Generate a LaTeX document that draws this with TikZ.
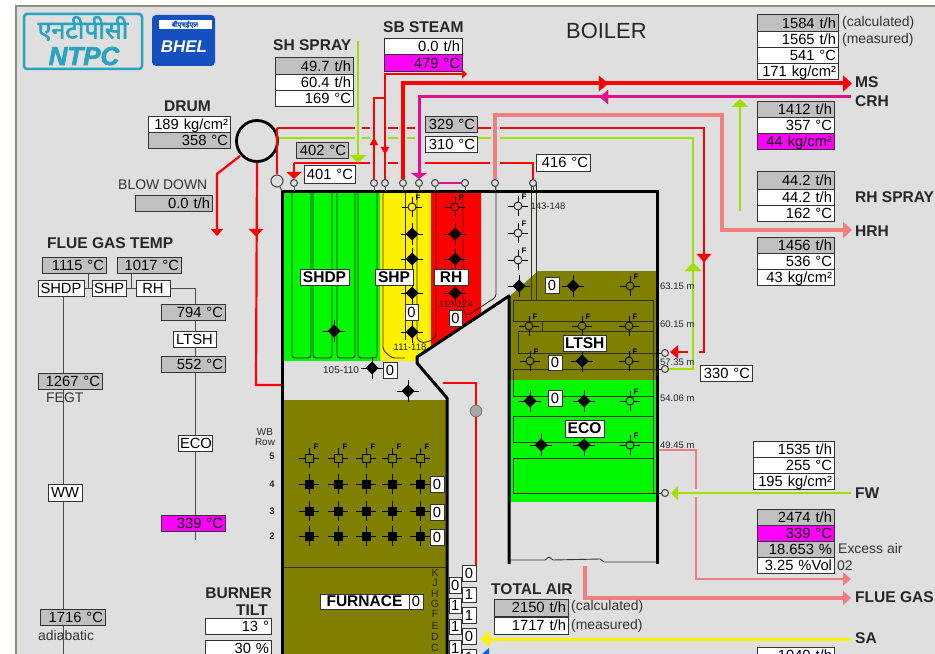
\documentclass[tikz,border=0pt]{standalone}
\usepackage{fontspec}
\setmainfont{Liberation Sans}
\newfontfamily\hindifont[Script=Devanagari,FakeBold=2.5]{Noto Sans}
\newfontfamily\logofont[FakeBold=2.5]{Liberation Sans}
\usetikzlibrary{arrows.meta}
\definecolor{bgc}{HTML}{DFDFDF}
\definecolor{grayv}{HTML}{C0C0C0}
\definecolor{lime}{HTML}{A0E000}
\definecolor{crhc}{HTML}{E0108F}
\definecolor{salm}{HTML}{F08080}
\definecolor{olivef}{HTML}{808000}
\definecolor{greenf}{HTML}{00F800}
\definecolor{magv}{HTML}{FF00FF}
\definecolor{frame}{HTML}{8F8F80}
\definecolor{tealc}{HTML}{2AA3BE}
\definecolor{bluec}{HTML}{1450C0}
\definecolor{linec}{HTML}{303020}
\newcommand{\valbox}[7][]{%
  \pgfmathsetmacro\bw{#5-#3}\pgfmathsetmacro\bh{#6-#4}\pgfmathsetmacro\tw{\bw-4}%
  \node[vb,fill=#7,minimum width=\bw bp,minimum height=\bh bp,text width=\tw bp,#1] (#2) at ({(#3+#5)/2},{(#4+#6)/2}) {\valtext};}
\newcommand{\vbx}[8][]{\def\valtext{#8}\valbox[#1]{#2}{#3}{#4}{#5}{#6}{#7}}
\tikzset{
  vb/.style={draw=black!80,line width=1bp,inner sep=0pt,align=right,font=\fontsize{14.8}{14.8}\selectfont,text height=10.5bp,text depth=0.5bp},
  cb/.style={align=center},
  bb/.style={align=center,font=\fontsize{15.6}{15.6}\selectfont\bfseries},
  ttl/.style={font=\fontsize{15.6}{15.6}\selectfont\bfseries,inner sep=0pt,anchor=west,text=black!85},
  note/.style={font=\fontsize{14}{14}\selectfont,inner sep=0pt,anchor=west,text=black!80},
  tiny/.style={font=\fontsize{9.5}{9.5}\selectfont,inner sep=0pt,anchor=west,text=black!85},
  port/.style={circle,draw=black!70,fill=bgc,line width=1.1bp,minimum size=7bp,inner sep=0pt},
  coil/.style={draw=linec,line width=0.9bp,rounded corners=3bp},
  lin/.style={draw=linec,line width=0.9bp},
  thinlk/.style={draw=black!70,line width=1bp},
  redp/.style={draw=red,line width=2.2bp},
  limep/.style={draw=lime,line width=2.2bp},
  sbon/.pic={\draw[line width=0.8bp] (-11,0)--(11,0) (0,-11)--(0,11);
    \fill[black] (-6.5,0)--(0,-6.5)--(6.5,0)--(0,6.5)--cycle;},
  sboff/.pic={\draw[line width=0.8bp] (-10,0)--(-4,0) (10,0)--(4,0) (0,-10)--(0,-4) (0,10)--(0,4);
    \draw[line width=0.8bp] (0,0) circle (4);
    \node[font=\fontsize{8}{8}\selectfont\bfseries,inner sep=0pt] at (6,-9) {F};},
  wbon/.pic={\draw[line width=0.8bp] (-10,0)--(10,0) (0,-10)--(0,10);
    \fill[black] (-4.5,-4.5) rectangle (4.5,4.5);},
  wboff/.pic={\draw[line width=0.8bp] (-10,0)--(-4,0) (10,0)--(4,0) (0,-10)--(0,-4) (0,10)--(0,4);
    \draw[line width=0.8bp] (-4,-4) rectangle (4,4);
    \node[font=\fontsize{8}{8}\selectfont\bfseries,inner sep=0pt] at (7,-11) {F};},
}
\begin{document}
\begin{tikzpicture}[x=1bp,y=-1bp]
\useasboundingbox (0,0) rectangle (935,654);
\clip (0,0) rectangle (935,654);
\fill[white] (0,0) rectangle (935,654);
\fill[bgc] (16,6) rectangle (935,654);
\draw[frame,line width=1.5bp] (16,654)--(16,6)--(935,6);

% logos
\draw[tealc,line width=2.5bp,rounded corners=3bp,fill=bgc] (24,14) rectangle (142,69);
\node[inner sep=0pt,text=tealc,font=\hindifont\fontsize{25}{25}\selectfont,text height=13bp,text depth=0bp] (hinditxt) at (83,32) {एनटीपीसी};
\node[inner sep=0pt,text=tealc,font=\logofont\fontsize{26}{26}\selectfont\bfseries\itshape,text height=18bp,text depth=0bp] (ntpctxt) at (84,56) {NTPC};
\fill[bluec,rounded corners=4bp] (152,15) rectangle (215,66);
\fill[white] (159,20) rectangle (212,29);
\node[inner sep=0pt,text=bluec,font=\hindifont\fontsize{7}{7}\selectfont] (bheltop) at (185,24.5) {बीएचईएल};
\node[inner sep=0pt,text=white,font=\fontsize{17}{17}\selectfont\bfseries\itshape] (bhelt) at (184,47) {BHEL};

% coloured tube banks
\fill[greenf] (283,193) rectangle (380,361);
\fill[yellow] (380,193)--(431,193)--(431,348)--(417,357)--(417,361)--(380,361)--cycle;
\fill[red] (431,193)--(481,193)--(481,314)--(431,348)--cycle;
\fill[olivef] (283,400) rectangle (446,654);
\fill[olivef] (510,296)--(538,271)--(656,271)--(656,380)--(510,380)--cycle;
\fill[greenf] (510,380) rectangle (656,502);

% SHDP coils
\foreach \a/\b in {292/311,313/332,337/355,358/377}
  \draw[coil] (\a,193)--(\a,358)--(\b,358)--(\b,193);
% SHP and RH coils
\draw[coil] (383,193)--(383,350)--(392,358)--(405,358);
\draw[coil] (405,193)--(405,340);
\draw[coil] (417,193)--(417,340)--(423,343)--(433,340)--(436,335)--(436,193);
\draw[coil] (463,193)--(463,310)--(467,316)--(496,297)--(496,183);
% right pass tubes
\draw[lin] (531,183)--(531,300) (536,183)--(536,300);
\draw[lin] (513,300)--(653,300) (513,300)--(513,321)--(653,321) (542,321)--(542,331);
\draw[lin] (518,331)--(653,331) (518,331)--(518,353)--(665,353);
\draw[lin] (513,369)--(665,369) (513,369)--(513,396)--(653,396);
\draw[lin] (513,416)--(653,416) (513,416)--(513,442)--(653,442);
\draw[lin] (513,458)--(653,458) (513,458)--(513,493)--(665,493);
\draw[lin] (653,300)--(653,493);
\draw[lin] (283,567)--(446,567);

% soot blowers
\foreach \p in {(412,234),(412,259),(412,293),(412,332),(455,234),(455,259),(455,293),(334,331),(372,368),(408,391),(519,286),(573,286),(582,361),(530,401),(584,401),(541,445),(584,445)}
  \pic at \p {sbon};
\foreach \p in {(412,207),(455,207),(518,206),(518,233),(518,260),(630,286),(529,326),(582,326),(629,326),(530,361),(629,361),(630,401),(630,445)}
  \pic at \p {sboff};
\foreach \x in {309,338,366,392,420}{
  \pic at (\x,458) {wboff};
  \foreach \y in {484,511,536} \pic at (\x,\y) {wbon};
}

% boiler outline
\draw[black,line width=3bp] (282,654)--(282,191)--(657,191)--(657,564);
\draw[black,line width=3bp,line join=round] (509,564)--(509,296)--(417,357)--(417,363)--(447,398)--(447,654);
\draw[black!80,line width=0.9bp] (509,560)--(545,560)--(549,557)--(553,560)--(600,559)--(604,562)--(657,562);

% ports
\foreach \x in {294,374,385,403,419,435,465,495,533}
  \node[port] (p\x) at (\x,183) {};
\node[port,minimum size=12bp] (blow) at (277,181) {};
\node[port] (pr) at (665,353) {};
\node[port] (pg) at (665,369) {};
\node[port] (pf) at (665,493) {};
\draw[thinlk] (blow)--(282,191);
\foreach \x in {294,374,385,403,419,435,495,465,533} \draw[thinlk] (p\x.south)--(\x,191);

% drum
\node[draw=black,line width=2.8bp,circle,minimum size=41bp,inner sep=0pt,fill=bgc] (drum) at (257,141) {};

% pipes: red saturated steam line and lime line
\coordinate (drumE) at (277,128);
\foreach \a/\b in {355/277,362/370,388/398,407/415,477/491}
  \draw[redp] (\a,128)--(\b,128);
\draw[redp] (500,128)--(704,128)--(704,352)--(699,352);
\draw[redp,-{Triangle[length=8bp,width=13bp]}] (688,352)--(670,352);
\foreach \a/\b in {279/355,362/370,388/398,407/415,477/491}
  \draw[limep] (\a,138)--(\b,138);
\draw[limep] (500,138)--(693,138)--(693,369)--(pg.east);
\draw[lime,fill=lime] (685,271)--(701,271)--(693,263)--cycle;
\draw[red,fill=red] (697,254)--(711,254)--(704,262)--cycle;
\draw[redp] (drumE)--(blow.north);
\draw[redp,-{Triangle[length=7bp,width=15bp]}] (294,163)--(p294.north);
\foreach \a/\b in {294/370,388/398,425/490}
  \draw[redp] (\a,163)--(\b,163);
\draw[redp] (500,163)--(533,163)--(p533.north);
\draw[redp] (p374.north)--(374,98)--(385,98);
\draw[red,fill=red] (370,145)--(378,145)--(374,138)--cycle;
\draw[redp,-{Triangle[length=5bp,width=9bp]}] (p385.north)--(385,74)--(467,74);
\draw[red,fill=red] (381,147)--(389,147)--(385,154)--cycle;
% drum down pipes
\draw[redp] (drum.south)--(256,385)--(281,385);
\draw[red,fill=red] (249,229)--(263,229)--(256,236)--cycle;
\draw[redp,-{Triangle[length=7bp,width=12bp]}] (240,156)--(217,174)--(217,236);
\draw[redp] (443,383)--(476,383)--(476,565);
\node[draw=black!70,fill=black!35,circle,minimum size=12bp,inner sep=0pt] (damper) at (476,411) {};
% MS
\draw[red,line width=4bp,-{Triangle[length=9bp,width=16bp]}] (p403.north)--(403,83.5)--(852,83.5);
\draw[red,fill=red] (599,76)--(608,83.5)--(599,91)--cycle;
% CRH
\draw[crhc,line width=3bp,-{Triangle[length=6bp,width=16bp]}] (851,97)--(419,97)--(p419.north);
\draw[crhc,fill=crhc] (608,90)--(600,97)--(608,104)--cycle;
% HRH
\draw[salm,line width=3.5bp,-{Triangle[length=9bp,width=16bp]}] (p495.north)--(495,115)--(722,115)--(722,230)--(852,230);
% pink link
\draw[crhc,line width=2bp] (p435.east)--(p465.west);
% sprays
\draw[lime,line width=2.2bp,-{Triangle[length=8bp,width=16bp]}] (358,41)--(358,163);
\draw[lime,line width=2.2bp,-{Triangle[length=8bp,width=16bp]}] (740,211)--(740,99);
% FW, flue gas, SA
\draw[lime,line width=2.6bp,-{Triangle[length=7bp,width=14bp]}] (851,493)--(671,493);
\draw[salm,line width=2.8bp] (659,450)--(696,450)--(696,489);
\draw[salm,line width=2.8bp,-{Triangle[length=8bp,width=13bp]}] (696,497)--(696,579)--(851,579);
\draw[salm,line width=4bp,-{Triangle[length=8bp,width=14bp]}] (585,566)--(585,598)--(851,598);
\draw[yellow,line width=3bp,-{Triangle[length=10bp,width=16bp]}] (851,639)--(480,639);
\fill[blue!60!cyan] (482,654)--(489,648)--(489,654)--cycle;

% labels
\node[font=\fontsize{22}{22}\selectfont,inner sep=0pt,anchor=west,text=black!85] (boiler) at (566,31) {BOILER};
\node[ttl] (tshs) at (273,45) {SH SPRAY};
\node[ttl] (tsbs) at (383,27) {SB STEAM};
\node[ttl] (tdrum) at (164,106) {DRUM};
\node[note] (tblow) at (118,185) {BLOW DOWN};
\node[ttl] (tfgt) at (47,243) {FLUE GAS TEMP};
\node[ttl] (tms) at (855,82) {MS};
\node[ttl] (tcrh) at (855,101) {CRH};
\node[ttl] (trhs) at (855,197) {RH SPRAY};
\node[ttl] (thrh) at (855,231) {HRH};
\node[ttl] (tfw) at (855,493) {FW};
\node[ttl] (tflue) at (855,597) {FLUE GAS};
\node[ttl] (tsa) at (855,638) {SA};
\node[ttl] (ttot) at (491,589) {TOTAL AIR};
\node[ttl,anchor=east] (tbur) at (272,593) {BURNER};
\node[ttl,anchor=east] (ttilt) at (268,610) {TILT};
\node[note] (ncal) at (842,23) {(calculated)};
\node[note] (nmea) at (842,40) {(measured)};
\node[note] (ncal2) at (571,607) {(calculated)};
\node[note] (nmea2) at (571,626) {(measured)};
\node[note] (nexc) at (838,549) {Excess air};
\node[note] (no2) at (837,566) {02};
\node[note] (nadia) at (38,636) {adiabatic};
\node[tiny,font=\fontsize{10}{10}\selectfont] (w1) at (323,370) {105-110};
\node[tiny,anchor=center] (w2) at (410,347) {111-118};
\node[tiny,anchor=center] (w3) at (456,304) {119-124};
\node[tiny,anchor=center] (w4) at (548,206) {143-148};
\foreach \n/\t/\y in {h1/63.15 m/286,h2/60.15 m/324,h3/57.35 m/362,h4/54.06 m/398,h5/49.45 m/445}
  \node[tiny] (\n) at (660,\y) {\t};
\node[tiny,anchor=center,align=center,font=\fontsize{10}{10}\selectfont] (wb) at (265,437) {WB\\Row};
\foreach \n/\y in {5/456,4/484,3/511,2/536}
  \node[tiny,anchor=center,font=\fontsize{9.5}{9.5}\selectfont\bfseries] (r\n) at (272,\y) {\n};
\foreach \t/\y in {K/573,J/583,H/594,G/604,F/614,E/626,D/637,C/648}
  \node[tiny,anchor=center,font=\fontsize{10.5}{10.5}\selectfont] (l\t) at (435,\y) {\t};

% flue gas temp network
\draw[thinlk] (63,296)--(63,654);
\draw[thinlk] (195,288)--(195,540);
\draw[thinlk] (170,288)--(195,288);
\draw[thinlk] (84,288)--(92,288) (126,288)--(136,288) (88,273)--(88,288) (131,273)--(131,288);
\node[note] (nfegt) at (46,398) {FEGT};

% value boxes
\vbx{a1}{275}{58}{353}{75}{grayv}{49.7 t/h}
\vbx{a2}{275}{75}{353}{91}{white}{60.4 t/h}
\vbx{a3}{275}{91}{353}{107}{white}{169 °C}
\vbx{b1}{384}{39}{462}{55}{white}{0.0 t/h}
\vbx{b2}{384}{55}{462}{72}{magv}{479 °C}
\vbx{c1}{148}{117}{230}{133}{white}{189 kg/cm²}
\vbx{c2}{148}{133}{230}{149}{grayv}{358 °C}
\vbx{d1}{135}{195}{212}{211}{grayv}{0.0 t/h}
\vbx{e1}{296}{143}{348}{159}{grayv}{402 °C}
\vbx{e2}{304}{166}{355}{183}{white}{401 °C}
\vbx{e3}{425}{117}{477}{133}{grayv}{329 °C}
\vbx{e4}{425}{137}{477}{153}{white}{310 °C}
\vbx{e5}{536}{155}{590}{171}{white}{416 °C}
\vbx{f0}{700}{365}{752}{381}{white}{330 °C}
\vbx{g1}{757}{15}{838}{32}{grayv}{1584 t/h}
\vbx{g2}{757}{32}{838}{48}{white}{1565 t/h}
\vbx{g3}{757}{48}{838}{64}{white}{541 °C}
\vbx{g4}{757}{64}{838}{80}{white}{171 kg/cm²}
\vbx{h1b}{757}{102}{834}{118}{grayv}{1412 t/h}
\vbx{h2b}{757}{118}{834}{134}{white}{357 °C}
\vbx{h3b}{757}{134}{834}{150}{magv}{44 kg/cm²}
\vbx{i1}{757}{172}{834}{189}{grayv}{44.2 t/h}
\vbx{i2}{757}{189}{834}{205}{white}{44.2 t/h}
\vbx{i3}{757}{205}{834}{221}{white}{162 °C}
\vbx{j1}{757}{237}{834}{253}{grayv}{1456 t/h}
\vbx{j2}{757}{253}{834}{269}{white}{536 °C}
\vbx{j3}{757}{269}{834}{285}{white}{43 kg/cm²}
\vbx{k1}{753}{441}{834}{457}{white}{1535 t/h}
\vbx{k2}{753}{457}{834}{473}{white}{255 °C}
\vbx{k3}{753}{473}{834}{489}{white}{195 kg/cm²}
\vbx{m1}{757}{509}{834}{525}{grayv}{2474 t/h}
\vbx{m2}{757}{525}{834}{541}{magv}{339 °C}
\vbx{m3}{757}{541}{834}{557}{grayv}{18.653 \%}
\vbx{m4}{757}{557}{834}{573}{white}{3.25 \%Vol}
\vbx{n1}{757}{647}{834}{664}{white}{1040 t/h}
\vbx{o1}{494}{599}{568}{616}{grayv}{2150 t/h}
\vbx{o2}{494}{617}{568}{634}{white}{1717 t/h}
\vbx{q1}{205}{618}{271}{634}{white}{13 °}
\vbx{q2}{205}{640}{271}{656}{white}{30 \%}
% flue gas temp boxes
\vbx{s1}{42}{257}{106}{273}{grayv}{1115 °C}
\vbx{s2}{117}{257}{181}{273}{grayv}{1017 °C}
\vbx[cb]{s3}{38}{280}{84}{296}{white}{SHDP}
\vbx[cb]{s4}{92}{280}{126}{296}{white}{SHP}
\vbx[cb]{s5}{136}{280}{170}{296}{white}{RH}
\vbx{s6}{161}{304}{225}{320}{grayv}{794 °C}
\vbx[cb]{s7}{173}{331}{216}{347}{white}{LTSH}
\vbx{s8}{161}{356}{225}{372}{grayv}{552 °C}
\vbx[cb]{s9}{178}{435}{212}{451}{white}{ECO}
\vbx{s10}{161}{515}{225}{531}{magv}{339 °C}
\vbx{s11}{38}{373}{102}{389}{grayv}{1267 °C}
\vbx[cb]{s12}{48}{484}{82}{501}{white}{WW}
\vbx{s13}{40}{609}{105}{625}{grayv}{1716 °C}
% section name boxes
\vbx[bb]{t1}{300}{269}{349}{285}{white}{SHDP}
\vbx[bb]{t2}{375}{269}{413}{285}{white}{SHP}
\vbx[bb]{t3}{434}{269}{468}{285}{white}{RH}
\vbx[bb]{t4}{563}{335}{606}{351}{white}{LTSH}
\vbx[bb]{t5}{565}{420}{604}{437}{white}{ECO}
\vbx[bb]{t6}{320}{594}{409}{609}{white}{FURNACE}
\vbx[cb]{t7}{409}{594}{423}{609}{white}{0}
% zero boxes
\foreach \n/\a/\b/\c/\d in {z1/405/304/418/320,z2/449/310/462/326,z3/383/362/397/378,z4/545/277/559/293,z5/548/355/562/370,z6/548/390/562/406,z7/430/476/444/492,z8/430/504/444/520,z9/430/529/444/545,z10/462/565/476/581,z11/449/577/461/593,z12/462/628/476/644}{
  \vbx[cb]{\n}{\a}{\b}{\c}{\d}{white}{0}
}
\foreach \n/\a/\b/\c/\d in {y1/462/587/476/602,y2/462/607/476/623,y3/462/649/476/665,y4/449/598/461/613,y5/449/619/461/634,y6/449/640/461/656}{
  \vbx[cb]{\n}{\a}{\b}{\c}{\d}{white}{1}
}
\end{tikzpicture}
\end{document}
